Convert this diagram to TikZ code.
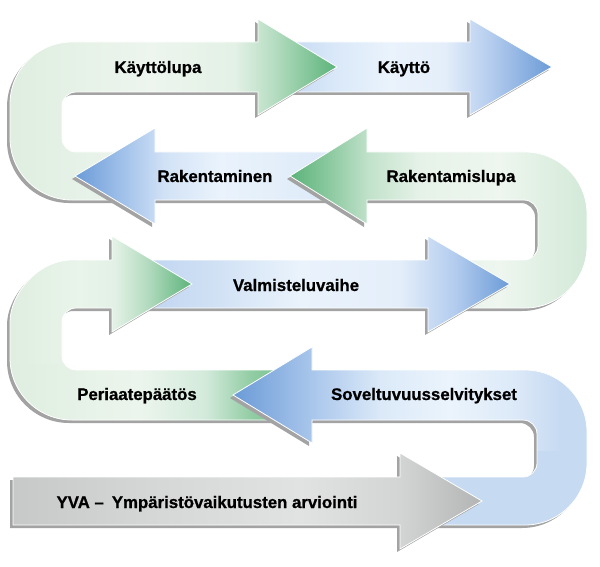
\documentclass[tikz,border=0pt]{standalone}
\usepackage{fontspec}
\setmainfont{Liberation Sans}
\newfontfamily\lblfont[FakeBold=0.8]{Liberation Sans Bold}
% colours
\definecolor{shadowc}{HTML}{A3A3A3}
\definecolor{kA}{HTML}{C2D6F1}\definecolor{kB}{HTML}{D8E7F8}\definecolor{kC}{HTML}{EAF3FC}
\definecolor{kD}{HTML}{E4EEFA}\definecolor{kE}{HTML}{B5CDEE}\definecolor{kF}{HTML}{6B9BD7}
\definecolor{lA}{HTML}{DFEEE0}\definecolor{lB}{HTML}{EDF5EE}\definecolor{lC}{HTML}{E3F1E6}
\definecolor{lD}{HTML}{B4DCC0}\definecolor{lE}{HTML}{5BB379}
\definecolor{rA}{HTML}{6B9BD7}\definecolor{rB}{HTML}{9EBFE9}\definecolor{rC}{HTML}{D2E2F6}
\definecolor{rD}{HTML}{EAF3FC}\definecolor{rE}{HTML}{DCE9F8}
\definecolor{sA}{HTML}{5BB379}\definecolor{sB}{HTML}{8DCAA1}\definecolor{sC}{HTML}{C3E2CC}
\definecolor{sD}{HTML}{E6F2E8}\definecolor{sE}{HTML}{EEF6EF}\definecolor{sF}{HTML}{D3E9D8}
\definecolor{vA}{HTML}{BFD4F0}\definecolor{vB}{HTML}{CFE0F4}\definecolor{vC}{HTML}{EAF3FC}
\definecolor{vD}{HTML}{E4EEFA}\definecolor{vE}{HTML}{B3CCEE}\definecolor{vF}{HTML}{6B9BD7}
\definecolor{pA}{HTML}{DFEEE0}\definecolor{pB}{HTML}{E9F4EA}\definecolor{pC}{HTML}{E2F1E5}
\definecolor{pD}{HTML}{AFD9BC}\definecolor{pE}{HTML}{5BB379}
\definecolor{qB}{HTML}{ECF5ED}\definecolor{qC}{HTML}{D3EADB}\definecolor{qD}{HTML}{93CDA5}
\definecolor{qE}{HTML}{6FBE8A}
\definecolor{uBase}{HTML}{C6DAF2}
\definecolor{uA}{HTML}{6B9BD7}\definecolor{uB}{HTML}{A9C6EB}\definecolor{uC}{HTML}{DBE9F8}
\definecolor{uD}{HTML}{EBF4FC}\definecolor{uE}{HTML}{DCE9F8}
\definecolor{yA}{HTML}{C6C9C8}\definecolor{yB}{HTML}{D4D7D5}\definecolor{yC}{HTML}{E0E3E1}
\definecolor{yD}{HTML}{D3D5D4}\definecolor{yE}{HTML}{B3B4B4}
% shadings
\pgfdeclarehorizontalshading{shKayt}{100bp}{color(0bp)=(kA); color(25bp)=(kA); color(34.19bp)=(kB); color(45.22bp)=(kC); color(55.33bp)=(kD); color(63.6bp)=(kE); color(75bp)=(kF); color(100bp)=(kF)}
\pgfdeclarehorizontalshading{shKlupa}{100bp}{color(0bp)=(lA); color(25bp)=(lA); color(46.41bp)=(lB); color(59.4bp)=(lC); color(65.52bp)=(lD); color(75bp)=(lE); color(100bp)=(lE)}
\pgfdeclarehorizontalshading{shRak}{100bp}{color(0bp)=(rA); color(25bp)=(rA); color(33.49bp)=(rB); color(41.98bp)=(rC); color(52.36bp)=(rD); color(75bp)=(rE); color(100bp)=(rE)}
\pgfdeclarehorizontalshading{shRlupa}{100bp}{color(0bp)=(sA); color(25bp)=(sA); color(31.73bp)=(sB); color(38.47bp)=(sC); color(46.89bp)=(sD); color(60.35bp)=(sE); color(75bp)=(sF); color(100bp)=(sF)}
\pgfdeclarehorizontalshading{shValm}{100bp}{color(0bp)=(vA); color(25bp)=(vA); color(34.46bp)=(vB); color(46.62bp)=(vC); color(60.14bp)=(vD); color(67.57bp)=(vE); color(75bp)=(vF); color(100bp)=(vF)}
\pgfdeclarehorizontalshading{shPer}{100bp}{color(0bp)=(pA); color(25bp)=(pA); color(37.5bp)=(pB); color(43.75bp)=(pC); color(50bp)=(pD); color(57.5bp)=(pE); color(75bp)=(pE); color(100bp)=(pE)}
\pgfdeclarehorizontalshading{shPerRow}{100bp}{color(0bp)=(pA); color(25bp)=(pA); color(48.21bp)=(qB); color(59.82bp)=(qC); color(67.86bp)=(qD); color(75bp)=(qE); color(100bp)=(qE)}
\pgfdeclarehorizontalshading{shSov}{100bp}{color(0bp)=(uA); color(25bp)=(uA); color(37.08bp)=(uB); color(47.48bp)=(uC); color(58.18bp)=(uD); color(68.12bp)=(uE); color(75bp)=(uBase); color(100bp)=(uBase)}
\pgfdeclarehorizontalshading{shYva}{100bp}{color(0bp)=(yA); color(25bp)=(yA); color(39.61bp)=(yB); color(55.6bp)=(yC); color(66.26bp)=(yD); color(75bp)=(yE); color(100bp)=(yE)}
% shapes (pixel coordinates, y downwards)
\newcommand{\shpKayt}{(280,42) -- (470,42) -- (470,19) -- (552,67) -- (470,115) -- (470,92) -- (280,92) -- cycle}
\newcommand{\shpKlupa}{(130,200) -- (72,200) .. controls (37.8,200) and (10,172.2) .. (10,138) -- (10,104) .. controls (10,69.8) and (37.8,42) .. (72,42) -- (258,42) -- (258,19) -- (337,67) -- (258,115) -- (258,92) -- (76,92) .. controls (68.3,92) and (62,98.3) .. (62,106) -- (62,138) .. controls (62,145.7) and (68.3,152) .. (76,152) -- (130,152) -- cycle}
\newcommand{\shpRak}{(340,152) -- (155,152) -- (155,128) -- (75,176) -- (155,224) -- (155,200) -- (340,200) -- cycle}
\newcommand{\shpRlupa}{(455,260) -- (524,260) .. controls (531.7,260) and (538,253.7) .. (538,246) -- (538,214) .. controls (538,206.3) and (531.7,200) .. (524,200) -- (367,200) -- (367,224) -- (290,176) -- (367,128) -- (367,152) -- (525,152) .. controls (559.2,152) and (587,179.8) .. (587,214) -- (587,246) .. controls (587,280.2) and (559.2,308) .. (525,308) -- (455,308) -- cycle}
\newcommand{\shpValm}{(140,260) -- (428,260) -- (428,236) -- (510,284) -- (428,332) -- (428,308) -- (140,308) -- cycle}
\newcommand{\shpPer}{(290,420) -- (72,420) .. controls (37.8,420) and (10,392.2) .. (10,358) -- (10,322) .. controls (10,294.2) and (37.8,260) .. (72,260) -- (112,260) -- (112,236) -- (192,284) -- (112,332) -- (112,308) -- (76,308) .. controls (68.3,308) and (62,314.3) .. (62,322) -- (62,356) .. controls (62,363.7) and (68.3,370) .. (76,370) -- (290,370) -- cycle}
\newcommand{\shpSov}{(430,477) -- (523,477) .. controls (530.7,477) and (537,470.7) .. (537,463) -- (537,434) .. controls (537,426.3) and (530.7,420) .. (523,420) -- (312,420) -- (312,443) -- (233,395) -- (312,347) -- (312,370) -- (525,370) .. controls (559.2,370) and (587,397.8) .. (587,432) -- (587,463) .. controls (587,497.2) and (559.2,525) .. (525,525) -- (430,525) -- cycle}
\newcommand{\shpYva}{(13,477) -- (400,477) -- (400,453) -- (482,501) -- (400,549) -- (400,525) -- (13,525) -- cycle}
\tikzset{
  shadowfill/.style={fill=shadowc, xshift=-3pt, yshift=-3pt},
  rim/.style={draw=white, line width=0.8pt},
  lbl/.style={font=\lblfont\fontsize{16.8}{20}\selectfont, text=black, anchor=base, inner sep=0pt}
}
\begin{document}
\begin{tikzpicture}[x=1pt,y=-1pt]
\useasboundingbox (0,0) rectangle (600,567);
\fill[white] (0,0) rectangle (600,567);
% Kayttö
\fill[shadowfill] \shpKayt;
\shade[shading=shKayt] \shpKayt;
\draw[rim] \shpKayt;
% Kayttölupa U
\fill[shadowfill] \shpKlupa;
\shade[shading=shKlupa] \shpKlupa;
\draw[rim] \shpKlupa;
% Rakentaminen
\fill[shadowfill] \shpRak;
\shade[shading=shRak] \shpRak;
\draw[rim] \shpRak;
% Rakentamislupa U
\fill[shadowfill] \shpRlupa;
\shade[shading=shRlupa] \shpRlupa;
\draw[rim] \shpRlupa;
% Valmisteluvaihe
\fill[shadowfill] \shpValm;
\shade[shading=shValm] \shpValm;
\draw[rim] \shpValm;
% Periaatepäätös U
\fill[shadowfill] \shpPer;
\shade[shading=shPer] \shpPer;
\begin{scope}
  \clip \shpPer;
  \shade[shading=shPerRow] (10,364) rectangle (290,426);
\end{scope}
\draw[rim] \shpPer;
% Soveltuvuusselvitykset U
\fill[shadowfill] \shpSov;
\fill[uBase] \shpSov;
\begin{scope}
  \clip \shpSov;
  \shade[shading=shSov] (233,340) rectangle (560,450);
\end{scope}
\draw[rim] \shpSov;
% YVA
\fill[shadowfill] \shpYva;
\shade[shading=shYva] \shpYva;
\draw[rim] \shpYva;
% labels
\node[lbl] (t1) at (158,73) {Käyttölupa};
\node[lbl] (t2) at (404,73) {Käyttö};
\node[lbl] (t3) at (215,182) {Rakentaminen};
\node[lbl] (t4) at (451,182) {Rakentamislupa};
\node[lbl] (t5) at (296,291) {Valmisteluvaihe};
\node[lbl] (t6) at (137,400) {Periaatepäätös};
\node[lbl] (t7) at (424,400) {Soveltuvuusselvitykset};
\node[lbl] (t8) at (207,508) {YVA –\hspace{8pt}Ympäristövaikutusten arviointi};
\end{tikzpicture}
\end{document}
